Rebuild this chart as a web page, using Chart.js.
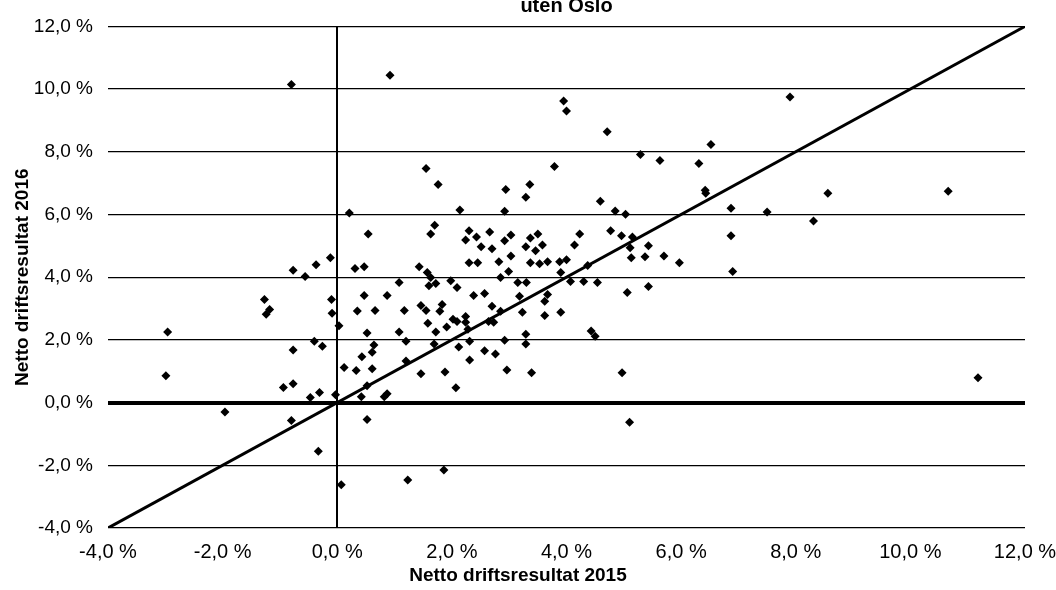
<!DOCTYPE html>
<html>
<head>
<meta charset="utf-8">
<script src="https://cdn.jsdelivr.net/npm/chart.js@4.4.1/dist/chart.umd.min.js"></script>
<style>
  html, body { margin: 0; padding: 0; background: #fff; }
</style>
</head>
<body>
<canvas id="chart" width="1056" height="590"></canvas>
<script>
const titleText = 'uten Oslo';
const xTitle = 'Netto driftsresultat 2015';
const yTitle = 'Netto driftsresultat 2016';

const tickValues = [-4, -2, 0, 2, 4, 6, 8, 10, 12];
const tickLabels = ['-4,0 %', '-2,0 %', '0,0 %', '2,0 %', '4,0 %', '6,0 %', '8,0 %', '10,0 %', '12,0 %'];

// one entry per kommune: netto driftsresultat 2015 (x) and 2016 (y), in %
const x2015 = [
  -0.80, 0.21, -0.12, -0.37, -0.77, 0.31, -0.56, -1.27, -1.18, -1.24,
  -0.10, -0.09, 0.35, 0.03, -2.96, -0.40, -0.26, -0.77, 0.12, 0.33,
  -2.99, -0.94, -0.77, -0.31, -0.47, -0.03, -1.96, -0.80, -0.33, 0.07,
  0.92, 3.95, 4.00, 1.55, 1.76, 2.94, 3.36, 3.29, 3.79, 2.14,
  2.92, 0.54, 1.70, 1.63, 2.30, 2.24, 2.43, 2.51, 2.66, 2.70,
  2.92, 3.03, 3.03, 3.29, 3.37, 3.50, 3.46, 3.58, 4.14, 4.23,
  0.47, 1.43, 2.30, 2.45, 2.82, 3.37, 3.53, 3.67, 3.88, 4.00,
  1.57, 1.63, 1.08, 1.60, 1.72, 1.98, 2.09, 2.85, 2.99, 3.15,
  3.30, 3.90, 4.07, 4.30, 0.47, 0.87, 0.66, 1.17, 1.46, 1.55,
  1.83, 1.79, 2.02, 2.09, 2.24, 2.38, 2.57, 2.70, 2.85, 3.18,
  3.23, 3.62, 3.67, 3.62, 3.90, 1.08, 1.20, 0.52, 0.64, 0.61,
  0.43, 1.58, 1.72, 1.69, 1.91, 2.24, 2.28, 2.64, 2.73, 2.12,
  2.31, 2.31, 2.57, 2.76, 2.92, 3.29, 3.29, 1.20, 0.61, 1.46,
  1.88, 2.96, 3.39, 2.07, 0.52, 0.87, 0.82, 0.42, 0.52, 1.86,
  1.23, 7.90, 4.71, 6.52, 5.29, 5.63, 6.31, 6.42, 6.43, 8.56,
  4.59, 4.85, 5.03, 6.87, 7.50, 8.31, 4.77, 4.96, 5.15, 5.11,
  5.43, 6.87, 5.13, 5.37, 5.70, 5.97, 4.37, 6.90, 4.54, 5.06,
  5.43, 4.43, 4.50, 4.97, 5.10, 10.66, 11.18
];
const y2016 = [
  10.15, 6.05, 4.62, 4.40, 4.22, 4.28, 4.02, 3.29, 2.97, 2.82,
  3.29, 2.85, 2.92, 2.45, 2.25, 1.96, 1.80, 1.68, 1.12, 1.02,
  0.86, 0.48, 0.60, 0.32, 0.16, 0.25, -0.30, -0.57, -1.55, -2.62,
  10.44, 9.62, 9.30, 7.47, 6.96, 6.80, 6.96, 6.55, 7.53, 6.14,
  6.10, 5.38, 5.66, 5.38, 5.48, 5.19, 5.28, 4.97, 5.44, 4.91,
  5.16, 5.35, 4.68, 4.97, 5.25, 5.38, 4.84, 5.03, 5.03, 5.38,
  4.33, 4.33, 4.46, 4.46, 4.49, 4.46, 4.43, 4.49, 4.49, 4.56,
  4.15, 3.99, 3.83, 3.73, 3.80, 3.89, 3.67, 3.99, 4.18, 3.83,
  3.83, 4.15, 3.86, 3.86, 3.42, 3.42, 2.94, 2.94, 3.10, 2.94,
  3.13, 2.91, 2.66, 2.59, 2.75, 3.42, 3.48, 3.07, 2.91, 3.39,
  2.88, 3.23, 3.45, 2.78, 2.88, 2.25, 1.96, 2.22, 1.84, 1.61,
  1.46, 2.53, 2.25, 1.87, 2.41, 2.56, 2.34, 2.59, 2.56, 1.77,
  1.96, 1.36, 1.65, 1.55, 1.99, 2.18, 1.87, 1.33, 1.08, 0.92,
  0.98, 1.04, 0.95, 0.47, 0.54, 0.28, 0.19, 0.19, -0.54, -2.15,
  -2.47, 9.75, 8.64, 8.23, 7.91, 7.72, 7.63, 6.77, 6.68, 6.68,
  6.42, 6.11, 6.01, 6.20, 6.08, 5.79, 5.48, 5.32, 5.28, 4.94,
  5.00, 5.32, 4.62, 4.65, 4.68, 4.46, 4.37, 4.18, 3.83, 3.51,
  3.70, 2.28, 2.12, 0.95, -0.63, 6.74, 0.79
];

// 45 degree reference line
const diagX = [-4, 12];
const diagY = [-4, 12];

const FONT = "'Liberation Sans', Arial, sans-serif";

const points = x2015.map((x, i) => ({ x: x, y: y2016[i] }));
const diagonal = diagX.map((x, i) => ({ x: x, y: diagY[i] }));

// x axis title sits a bit left of the plot centre in the original
const xTitlePlugin = {
  id: 'xTitle',
  afterDraw(chart) {
    const ctx = chart.ctx;
    ctx.save();
    ctx.font = 'bold 19px ' + FONT;
    ctx.fillStyle = '#000';
    ctx.textAlign = 'center';
    ctx.textBaseline = 'middle';
    ctx.fillText(xTitle, 518, 576);
    ctx.restore();
  }
};

new Chart(document.getElementById('chart'), {
  type: 'scatter',
  data: {
    datasets: [
      {
        label: 'Kommuner',
        data: points,
        pointStyle: 'rectRot',
        pointRadius: 4.5,
        pointBackgroundColor: '#000',
        pointBorderColor: '#000',
        pointBorderWidth: 0,
        order: 1
      },
      {
        type: 'line',
        label: 'y = x',
        data: diagonal,
        borderColor: '#000',
        borderWidth: 3,
        pointRadius: 0,
        fill: false,
        order: 2
      }
    ]
  },
  options: {
    responsive: false,
    animation: false,
    devicePixelRatio: 1,
    layout: { padding: { left: 0, right: 31, top: 0, bottom: 0 } },
    plugins: {
      legend: { display: false },
      tooltip: { enabled: false },
      title: {
        display: true,
        text: titleText,
        fullSize: false,
        color: '#000',
        font: { family: FONT, size: 20, weight: 'bold' },
        padding: { top: -10, bottom: 8 }
      }
    },
    scales: {
      x: {
        type: 'linear',
        min: -4,
        max: 12,
        afterBuildTicks: s => { s.ticks = tickValues.map(v => ({ value: v })); },
        afterFit: s => { s.height = 62; s.paddingLeft = 0; s.paddingRight = 0; },
        border: { display: false },
        grid: {
          drawTicks: false,
          color: c => (c.tick && c.tick.value === 0) ? '#000' : 'rgba(0,0,0,0)',
          lineWidth: 2
        },
        ticks: {
          color: '#000',
          padding: 12,
          maxRotation: 0,
          font: { family: FONT, size: 20 },
          callback: (v, i) => tickLabels[i]
        }
      },
      y: {
        type: 'linear',
        min: -4,
        max: 12,
        afterBuildTicks: s => { s.ticks = tickValues.map(v => ({ value: v })); },
        afterFit: s => { s.width = 108; },
        border: { display: false },
        grid: {
          drawTicks: false,
          color: '#000',
          lineWidth: c => (c.tick && c.tick.value === 0) ? 4 : 1.3
        },
        ticks: {
          color: '#000',
          padding: 15,
          font: { family: FONT, size: 19 },
          callback: (v, i) => tickLabels[i]
        },
        title: {
          display: true,
          text: yTitle,
          color: '#000',
          font: { family: FONT, size: 19, weight: 'bold' },
          padding: { top: 11, bottom: 0 }
        }
      }
    }
  },
  plugins: [xTitlePlugin]
});
</script>
</body>
</html>
